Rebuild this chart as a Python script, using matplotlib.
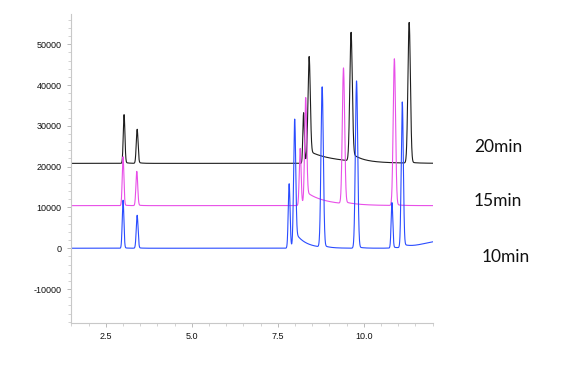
import numpy as np
import matplotlib
matplotlib.use("Agg")
import matplotlib.pyplot as plt
from matplotlib.ticker import MultipleLocator, FormatStrFormatter

plt.rcParams["axes.unicode_minus"] = False

# ---- data ----
labels = ["20min", "15min", "10min"]
colors = ["#1e1e1e", "#e84fe8", "#2a4cff"]
baselines = [20800, 10440, 0]

# peak tables: retention time, apex height above baseline, width (sigma), tail height, tail decay
black_rt    = [3.03, 3.41, 8.25, 8.41, 9.63, 11.32]
black_h     = [11800, 8200, 12000, 24500, 30500, 34300]
black_sig   = [0.024, 0.026, 0.022, 0.034, 0.036, 0.036]
black_tail  = [300, 300, 800, 2800, 2000, 300]
black_tau   = [0.10, 0.10, 0.15, 0.80, 0.30, 0.15]

mag_rt      = [3.00, 3.40, 8.15, 8.31, 9.41, 10.89]
mag_h       = [11900, 8300, 13500, 24500, 33000, 35800]
mag_sig     = [0.024, 0.026, 0.026, 0.030, 0.034, 0.034]
mag_tail    = [200, 200, 1000, 3200, 500, 300]
mag_tau     = [0.10, 0.10, 0.15, 0.60, 0.30, 0.15]

blue_rt     = [3.00, 3.41, 7.83, 7.99, 8.79, 9.79, 10.82, 11.12, 12.3]
blue_h      = [11700, 8000, 15500, 29500, 39000, 40800, 11000, 35200, 1800]
blue_sig    = [0.024, 0.026, 0.026, 0.030, 0.034, 0.034, 0.024, 0.030, 0.55]
blue_tail   = [150, 150, 600, 4000, 600, 400, 300, 900, 0]
blue_tau    = [0.10, 0.10, 0.10, 0.30, 0.15, 0.15, 0.10, 0.20, 0.10]

tables = [
    (black_rt, black_h, black_sig, black_tail, black_tau),
    (mag_rt, mag_h, mag_sig, mag_tail, mag_tau),
    (blue_rt, blue_h, blue_sig, blue_tail, blue_tau),
]

x_min, x_max = 1.5, 12.0
y_min, y_max = -18250, 57400

t = np.linspace(x_min, x_max, 4000)


def trace(base, rt, h, sig, tail, tau):
    y = np.full_like(t, float(base))
    for t0, hh, s, th, tt in zip(rt, h, sig, tail, tau):
        d = t - t0
        y += hh * np.exp(-0.5 * (d / s) ** 2)
        step = 1.0 / (1.0 + np.exp(-d / (0.6 * s)))
        y += th * np.exp(-np.clip(d, 0, None) / tt) * step
    return y


fig = plt.figure(figsize=(5.82, 3.66), dpi=100)
ax = fig.add_axes([0.1228, 0.1183, 0.6204, 0.8434])

for base, (rt, h, sig, tail, tau), c in zip(baselines, tables, colors):
    ax.plot(t, trace(base, rt, h, sig, tail, tau), color=c, lw=0.8)

ax.set_xlim(x_min, x_max)
ax.set_ylim(y_min, y_max)
ax.xaxis.set_major_locator(MultipleLocator(2.5))
ax.xaxis.set_minor_locator(MultipleLocator(0.5))
ax.yaxis.set_major_locator(MultipleLocator(10000))
ax.yaxis.set_minor_locator(MultipleLocator(2000))
ax.xaxis.set_major_formatter(FormatStrFormatter("%.1f"))

for s in ["top", "right"]:
    ax.spines[s].set_visible(False)
for s in ["left", "bottom"]:
    ax.spines[s].set_color("#c8c8c8")
    ax.spines[s].set_linewidth(0.8)

ax.tick_params(which="major", length=3, width=0.6, color="#b0b0b0",
               labelsize=6.5, labelcolor="#111111", pad=4)
ax.tick_params(which="minor", length=2, width=0.5, color="#c0c0c0")
for lab in ax.get_xticklabels() + ax.get_yticklabels():
    lab.set_family("Liberation Sans")

# trace labels
label_pos = [(474, 147), (474, 201), (482, 257)]
for txt, (px, py) in zip(labels, label_pos):
    fig.text(px / 582, 1 - py / 366, txt, fontsize=12.5, family="Lato",
             color="#111111", va="center", ha="left")

fig.savefig("out.png", dpi=100)
